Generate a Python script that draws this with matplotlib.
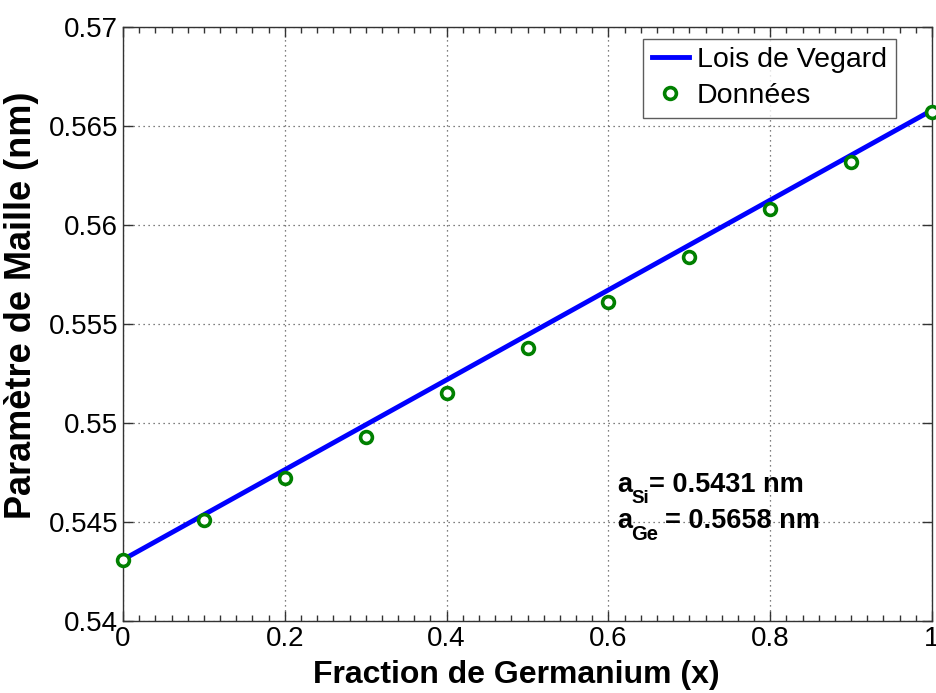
import matplotlib
matplotlib.use("Agg")
import matplotlib.pyplot as plt
from matplotlib.ticker import FormatStrFormatter, MultipleLocator

plt.rcParams['font.family'] = ['Liberation Sans', 'DejaVu Sans']

# Data
x_data = [0.0, 0.1, 0.2, 0.3, 0.4, 0.5, 0.6, 0.7, 0.8, 0.9, 1.0]
y_data = [0.5431, 0.5451, 0.5472, 0.5493, 0.5515, 0.5538, 0.5561, 0.5584, 0.5608, 0.5632, 0.5657]
x_vegard = [0.0, 1.0]
y_vegard = [0.5431, 0.5658]
x_ticks = [0, 0.2, 0.4, 0.6, 0.8, 1.0]
y_ticks = [0.54, 0.545, 0.55, 0.555, 0.56, 0.565, 0.57]

fig = plt.figure(figsize=(9.37, 6.93), dpi=100)
ax = fig.add_axes([0.1313, 0.1039, 0.8634, 0.8571])

ax.plot(x_vegard, y_vegard, color='#0000ff', lw=3.5, label='Lois de Vegard', zorder=3)
ax.plot(x_data, y_data, 'o', mfc='white', mec='#008000', mew=2.6, ms=8.5,
        label='Données', zorder=4, clip_on=False)

ax.set_xlim(0, 1)
ax.set_ylim(0.54, 0.57)
ax.set_xticks(x_ticks)
ax.set_yticks(y_ticks)
ax.xaxis.set_major_formatter(FormatStrFormatter('%g'))
ax.yaxis.set_major_formatter(FormatStrFormatter('%g'))
ax.xaxis.set_minor_locator(MultipleLocator(0.02))
ax.tick_params(which='both', direction='in', top=True, right=True, labelsize=20, color='#333333')
ax.tick_params(which='major', length=7, width=1)
ax.tick_params(which='minor', length=4, width=1)
ax.tick_params(axis='y', which='minor', left=False, right=False)
for s in ax.spines.values():
    s.set_color('#333333')
    s.set_linewidth(1.0)

ax.grid(True, which='major', linestyle=(0, (1, 3)), color='#555555', lw=0.9)

ax.set_xlabel('Fraction de Germanium (x)', fontsize=23, fontweight='bold')
ax.xaxis.set_label_coords(0.486, -0.066)
ax.set_ylabel('Paramètre de Maille (nm)', fontsize=26, fontweight='bold')
ax.yaxis.set_label_coords(-0.104, 0.532)

leg = ax.legend(loc='upper right', bbox_to_anchor=(0.955, 0.980), fontsize=20.5,
                frameon=True, fancybox=False, edgecolor='#333333', handlelength=1.3,
                handletextpad=0.3, borderpad=0.3, labelspacing=0.35, borderaxespad=0)
leg.get_frame().set_linewidth(1.0)

def label_with_sub(x, y, sub, rest, sub_dx, sub_dy, sub_fs, rest_dx):
    ax.annotate('a', (x, y), fontsize=19.5, fontweight='bold', va='baseline', ha='left')
    ax.annotate(sub, (x, y), xytext=(sub_dx, -sub_dy), textcoords='offset pixels',
                fontsize=sub_fs, fontweight='bold', va='baseline', ha='left')
    ax.annotate(rest, (x, y), xytext=(rest_dx, 0), textcoords='offset pixels',
                fontsize=19.5, fontweight='bold', va='baseline', ha='left')

label_with_sub(0.6106, 0.54652, 'Si', '= 0.5431 nm', 14, 11, 13.5, 32)
label_with_sub(0.6106, 0.54470, 'Ge', '= 0.5658 nm', 14, 12, 14.5, 48)

fig.savefig('out.png', dpi=100)
